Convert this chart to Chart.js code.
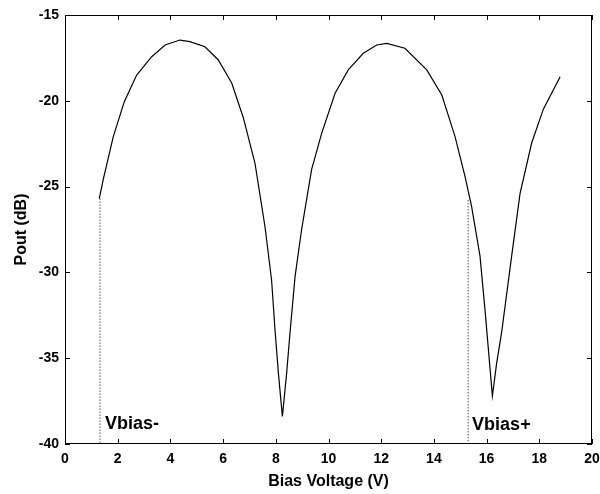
<!DOCTYPE html>
<html>
<head>
<meta charset="utf-8">
<script src="https://cdn.jsdelivr.net/npm/chart.js@4/dist/chart.umd.min.js"></script>
<style>
  html, body { margin: 0; padding: 0; background: #fff; }
</style>
</head>
<body>
<canvas id="chart" width="600" height="494"></canvas>
<script>
// Pout vs bias voltage
const biasV = [1.3, 1.45, 1.83, 2.25, 2.72, 3.29, 3.8, 4.36, 4.74, 5.31, 5.82, 6.33, 6.77, 7.21, 7.59,
  7.84, 7.97, 8.1, 8.25, 8.41, 8.54, 8.73, 8.98, 9.36, 9.74, 10.25, 10.75, 11.32, 11.83, 12.21, 12.9,
  13.73, 14.3, 14.8, 15.18, 15.43, 15.75, 15.94, 16.22, 16.38, 16.57, 16.95, 17.27, 17.71, 18.15, 18.79];
const poutDb = [-25.7, -24.6, -22.1, -20.05, -18.5, -17.43, -16.75, -16.46, -16.55, -16.85, -17.62, -18.98, -21.0, -23.64, -27.34,
  -30.44, -33.36, -35.9, -38.4, -35.9, -33.5, -30.25, -27.5, -24.0, -21.9, -19.56, -18.2, -17.23, -16.75, -16.65, -16.94,
  -18.2, -19.66, -22.07, -24.4, -26.15, -29.05, -32.2, -37.2, -35.3, -33.5, -29.05, -25.4, -22.46, -20.5, -18.6];

// dotted markers for the two bias points
const vbiasMinus = [{ x: 1.33, y: -25.7 }, { x: 1.33, y: -40 }];
const vbiasPlus  = [{ x: 15.3, y: -25.8 }, { x: 15.3, y: -40 }];
const markerLabels = [
  { text: 'Vbias-', x: 1.52, y: -39.1 },
  { text: 'Vbias+', x: 15.45, y: -39.2 },
];

const xTicks = { min: 0, max: 20, step: 2 };
const yTicks = { min: -40, max: -15, step: 5 };

const FONT = '"Liberation Sans", Arial, Helvetica, sans-serif';

// box frame + inward ticks on all four sides (matlab style)
const frameTicks = {
  id: 'frameTicks',
  afterDraw(chart) {
    const { ctx, chartArea: a, scales: { x, y } } = chart;
    ctx.save();
    ctx.strokeStyle = '#000';
    ctx.lineWidth = 1;
    ctx.strokeRect(a.left + 0.5, a.top + 0.5, a.right - a.left - 1, a.bottom - a.top - 1);
    const len = 5;
    ctx.beginPath();
    for (let v = xTicks.min; v <= xTicks.max; v += xTicks.step) {
      const px = Math.round(x.getPixelForValue(v)) + 0.5;
      ctx.moveTo(px, a.bottom); ctx.lineTo(px, a.bottom - len);
      ctx.moveTo(px, a.top); ctx.lineTo(px, a.top + len);
    }
    for (let v = yTicks.min; v <= yTicks.max; v += yTicks.step) {
      const py = Math.round(y.getPixelForValue(v)) + 0.5;
      ctx.moveTo(a.left, py); ctx.lineTo(a.left + len, py);
      ctx.moveTo(a.right, py); ctx.lineTo(a.right - len, py);
    }
    ctx.stroke();

    ctx.fillStyle = '#000';
    ctx.font = 'bold 18px ' + FONT;
    ctx.textAlign = 'left';
    ctx.textBaseline = 'alphabetic';
    markerLabels.forEach(l => {
      ctx.fillText(l.text, x.getPixelForValue(l.x), y.getPixelForValue(l.y));
    });
    ctx.restore();
  },
};

new Chart(document.getElementById('chart'), {
  type: 'scatter',
  data: {
    datasets: [
      {
        label: 'Pout',
        data: biasV.map((v, i) => ({ x: v, y: poutDb[i] })),
        showLine: true,
        borderColor: '#000',
        borderWidth: 1.2,
        pointRadius: 0,
        tension: 0,
      },
      {
        label: 'Vbias-',
        data: vbiasMinus,
        showLine: true,
        borderColor: '#000',
        borderWidth: 1,
        borderDash: [1, 2],
        pointRadius: 0,
      },
      {
        label: 'Vbias+',
        data: vbiasPlus,
        showLine: true,
        borderColor: '#000',
        borderWidth: 1,
        borderDash: [1, 2],
        pointRadius: 0,
      },
    ],
  },
  options: {
    responsive: false,
    animation: false,
    layout: { padding: { left: 0, top: 15, right: 8, bottom: 0 } },
    plugins: { legend: { display: false }, tooltip: { enabled: false } },
    scales: {
      x: {
        type: 'linear',
        min: xTicks.min, max: xTicks.max,
        afterFit: s => { s.height = 50; s.paddingLeft = 0; s.paddingRight = 0; },
        grid: { display: false, drawTicks: false },
        border: { display: false },
        ticks: { stepSize: xTicks.step, padding: 7, color: '#000', font: { family: FONT, size: 14, weight: 'bold' } },
        title: { display: true, text: 'Bias Voltage (V)', color: '#000', padding: { top: 0, bottom: 3 },
                 font: { family: FONT, size: 16, weight: 'bold' } },
      },
      y: {
        min: yTicks.min, max: yTicks.max,
        afterFit: s => { s.width = 65; s.paddingTop = 0; s.paddingBottom = 0; },
        grid: { display: false, drawTicks: false },
        border: { display: false },
        ticks: { stepSize: yTicks.step, padding: 6, color: '#000', font: { family: FONT, size: 14, weight: 'bold' } },
        title: { display: true, text: 'Pout (dB)', color: '#000', padding: { top: 12, bottom: 12 },
                 font: { family: FONT, size: 16, weight: 'bold' } },
      },
    },
  },
  plugins: [frameTicks],
});
</script>
</body>
</html>
